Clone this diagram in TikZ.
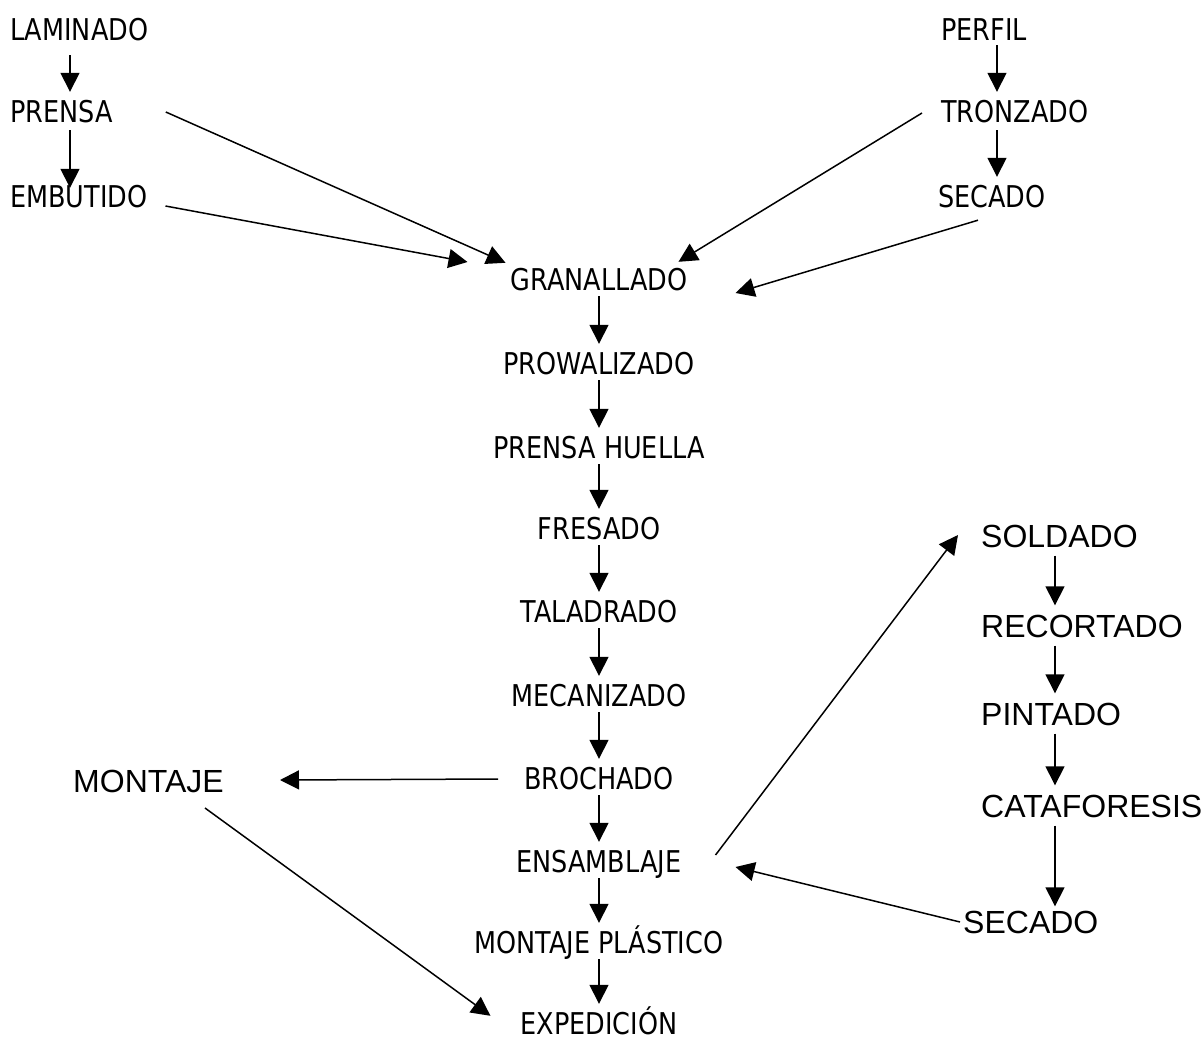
\documentclass[tikz,border=0pt]{standalone}
\usepackage{fontspec}
\usetikzlibrary{arrows.meta}
\newfontfamily\tahoma[FakeStretch=0.85]{DejaVu Sans}
\newfontfamily\arial{Liberation Sans}
\begin{document}
\begin{tikzpicture}[x=1pt,y=-1pt,
  step box/.style={font=\tahoma\fontsize{30}{30}\selectfont, inner sep=0pt, text height=22pt, text depth=0pt},
  big box/.style={font=\arial\fontsize{32}{32}\selectfont, inner sep=0pt, text height=23pt, text depth=0pt},
  arr/.style={-{Triangle[length=19pt,width=19pt]}, line width=1.5pt}]
\useasboundingbox (0,0) rectangle (1203,1039);
% left column
\node[step box, anchor=west] (laminado) at (10,29) {LAMINADO};
\node[step box, anchor=west] (prensa) at (10,111) {PRENSA};
\node[step box, anchor=west] (embutido) at (10,196) {EMBUTIDO};
% upper right column
\node[step box, anchor=west] (perfil) at (941,29) {PERFIL};
\node[step box, anchor=west] (tronzado) at (941,111) {TRONZADO};
\node[step box, anchor=west] (secadoa) at (938,196) {SECADO};
% main line
\node[step box] (granallado) at (599,279) {GRANALLADO};
\node[step box] (prowalizado) at (599,363) {PROWALIZADO};
\node[step box] (huella) at (599,447) {PRENSA HUELLA};
\node[step box] (fresado) at (599,528) {FRESADO};
\node[step box] (taladrado) at (599,611) {TALADRADO};
\node[step box] (mecanizado) at (599,695) {MECANIZADO};
\node[step box] (brochado) at (599,778) {BROCHADO};
\node[step box] (ensamblaje) at (599,861) {ENSAMBLAJE};
\node[step box] (plastico) at (599,942) {MONTAJE PLÁSTICO};
\node[step box] (expedicion) at (599,1023) {EXPEDICIÓN};
% lower right column and montaje
\node[big box, anchor=west] (soldado) at (981,536) {SOLDADO};
\node[big box, anchor=west] (recortado) at (981,626) {RECORTADO};
\node[big box, anchor=west] (pintado) at (981,714) {PINTADO};
\node[big box, anchor=west] (cataforesis) at (981,806) {CATAFORESIS};
\node[big box, anchor=west] (secadob) at (963,922) {SECADO};
\node[big box, anchor=west] (montaje) at (73,781) {MONTAJE};
% vertical arrows
\draw[arr, shorten <=15pt, shorten >=8pt] ([xshift=60pt]laminado.south west) -- ([xshift=60pt]prensa.north west);
\draw[arr, shorten <=8pt, shorten >=-3pt] ([xshift=60pt]prensa.south west) -- ([xshift=60pt]embutido.north west);
\draw[arr, shorten <=5pt, shorten >=8pt] ([xshift=56pt]perfil.south west) -- ([xshift=56pt]tronzado.north west);
\draw[arr, shorten <=8pt, shorten >=8pt] ([xshift=56pt]tronzado.south west) -- ([xshift=59pt]secadoa.north west);
\foreach \a/\b in {granallado/prowalizado, prowalizado/huella, huella/fresado, fresado/taladrado,
  taladrado/mecanizado, mecanizado/brochado, brochado/ensamblaje, ensamblaje/plastico, plastico/expedicion}
  \draw[arr, shorten <=6pt, shorten >=8pt] (\a.south) -- (\b.north);
\foreach \a/\b in {soldado/recortado, recortado/pintado, pintado/cataforesis}
  \draw[arr, shorten <=8pt, shorten >=9pt] ([xshift=74pt]\a.south west) -- ([xshift=74pt]\b.north west);
\draw[arr, shorten <=8pt, shorten >=4pt] ([xshift=74pt]cataforesis.south west) -- ([xshift=92pt]secadob.north west);
% diagonal arrows
\draw[arr] ([shift={(53,1)}]prensa.east) -- ([shift={(-5,-5)}]granallado.north west);
\draw[arr] ([shift={(18,10)}]embutido.east) -- ([shift={(-43,-17)}]granallado.west);
\draw[arr] ([shift={(-19,2)}]tronzado.west) -- ([shift={(-9,-6)}]granallado.north east);
\draw[arr] ([shift={(40,13)}]secadoa.south west) -- ([shift={(48,14)}]granallado.east);
\draw[arr] ([shift={(-26,1)}]brochado.west) -- ([shift={(207,-1)}]montaje.west);
\draw[arr] ([shift={(132,27)}]montaje.west) -- ([shift={(-30,4)}]expedicion.north west);
\draw[arr] ([shift={(34,-6)}]ensamblaje.east) -- ([shift={(-23,-1)}]soldado.west);
\draw[arr] ([shift={(-3,0)}]secadob.west) -- ([shift={(54,6)}]ensamblaje.east);
\end{tikzpicture}
\end{document}
